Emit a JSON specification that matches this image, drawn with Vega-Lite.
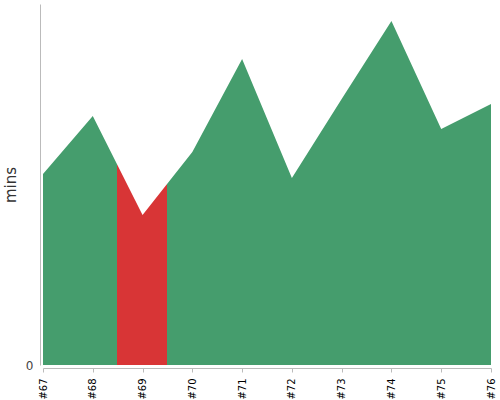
{
  "$schema": "https://vega.github.io/schema/vega-lite/v6.json",
  "autosize": "none",
  "width": 448,
  "height": 361,
  "padding": {"left": 43, "top": 4, "right": 9, "bottom": 35},
  "config": {"view": {"stroke": null}, "font": "DejaVu Sans"},
  "data": {
    "values": [
      {"build": "#67", "mins": 191},
      {"build": "#68", "mins": 249},
      {"build": "#69", "mins": 150},
      {"build": "#70", "mins": 213},
      {"build": "#71", "mins": 306},
      {"build": "#72", "mins": 187},
      {"build": "#73", "mins": 266},
      {"build": "#74", "mins": 344},
      {"build": "#75", "mins": 236},
      {"build": "#76", "mins": 261}
    ]
  },
  "mark": {
    "type": "area",
    "fill": {
      "gradient": "linear",
      "x1": 0, "y1": 0, "x2": 1, "y2": 0,
      "stops": [
        {"offset": 0, "color": "#459d6d"},
        {"offset": 0.1652, "color": "#459d6d"},
        {"offset": 0.1652, "color": "#d83536"},
        {"offset": 0.2768, "color": "#d83536"},
        {"offset": 0.2768, "color": "#459d6d"},
        {"offset": 1, "color": "#459d6d"}
      ]
    }
  },
  "encoding": {
    "x": {
      "field": "build",
      "type": "ordinal",
      "scale": {"type": "point", "padding": 0},
      "axis": {
        "title": null,
        "labelAngle": -90,
        "labelAlign": "right",
        "labelBaseline": "middle",
        "labelFontSize": 10,
        "labelColor": "#000",
        "labelPadding": 6,
        "tickSize": 4,
        "offset": 3,
        "domainColor": "#bbb",
        "tickColor": "#bbb",
        "grid": false
      }
    },
    "y": {
      "field": "mins",
      "type": "quantitative",
      "scale": {"domain": [0, 361], "nice": false},
      "axis": {
        "title": "mins",
        "titleFontSize": 15,
        "titleFontWeight": "normal",
        "titleColor": "#333",
        "titlePadding": 7,
        "values": [0],
        "labelFontSize": 12,
        "labelColor": "#444",
        "labelPadding": 7,
        "offset": 3,
        "ticks": false,
        "domainColor": "#bbb",
        "grid": false
      }
    }
  }
}
